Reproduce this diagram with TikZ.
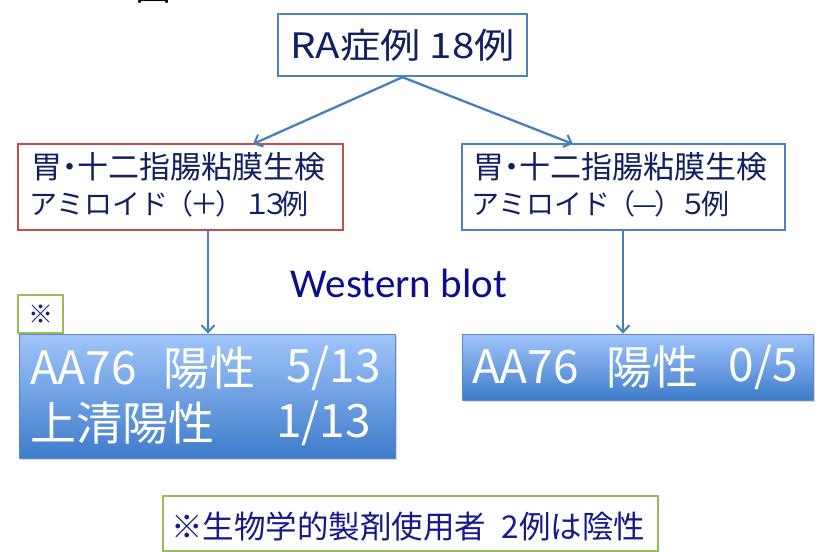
\documentclass[tikz,border=0pt]{standalone}
\usepackage{fontspec}
\setmainfont{Noto Sans CJK JP}
\newfontfamily\jpfont{Noto Sans CJK JP}
\newfontfamily\jpwidefont[FakeStretch=1.15]{Noto Sans CJK JP}
\newfontfamily\calfont{Carlito}
\usetikzlibrary{arrows.meta,shadows}
\definecolor{boxblue}{RGB}{79,129,189}
\definecolor{boxred}{RGB}{192,80,77}
\definecolor{boxgreen}{RGB}{155,187,89}
\definecolor{arrowc}{RGB}{74,126,187}
\definecolor{txtnavy}{RGB}{18,32,98}
\definecolor{txtblue}{RGB}{24,24,140}
\definecolor{westc}{RGB}{12,12,140}
\definecolor{gtop}{RGB}{160,197,250}
\definecolor{gbot}{RGB}{62,124,203}
\definecolor{gborder}{RGB}{90,136,200}
\newcommand{\nakaguro}{\kern-0.25em・\kern-0.25em}
\newcommand{\parenpart}[1]{\kern-0.1em（\kern-0.12em#1\kern-0.12em）}
\begin{document}
\begin{tikzpicture}[x=1pt,y=-1pt,
  frame/.style={draw=#1, line width=2.4pt, fill=white, inner sep=0pt},
  gbox/.style={draw=gborder, line width=0.8pt, top color=gtop, bottom color=gbot,
    drop shadow={opacity=0.3, shadow xshift=1.5pt, shadow yshift=-2pt}, inner sep=0pt},
  tx/.style={inner sep=0pt, anchor=west},
  arr/.style={draw=arrowc, line width=2.3pt, -{Straight Barb[length=7pt,width=13pt,line width=2pt]}}]
\useasboundingbox (0,0) rectangle (823,552);
\clip (0,0) rectangle (823,552);

% cut-off figure label
\node[inner sep=0pt, anchor=base west, font=\jpfont\fontsize{36}{40}\selectfont] (fig) at (135,0.5) {図2};

% top box
\node[frame=boxblue, minimum width=249pt, minimum height=62pt, text=txtnavy,
  font=\jpwidefont\fontsize{35}{40}\selectfont] (ra) at (402.5,45) {RA症例 18例};

% left / right biopsy boxes
\node[frame=boxred, minimum width=325pt, minimum height=86pt] (lb) at (180.5,187) {};
\node[tx, text=txtnavy, font=\jpfont\fontsize{31}{34}\selectfont] (lb1) at (31,167) {胃\nakaguro 十二指腸粘膜生検};
\node[tx, text=txtnavy, font=\jpfont\fontsize{28}{32}\selectfont] (lb2) at (29,204) {アミロイド\parenpart{＋}１\kern-0.35em３\kern-0.3em例};

\node[frame=boxblue, minimum width=323pt, minimum height=86pt] (rb) at (623.5,187) {};
\node[tx, text=txtnavy, font=\jpfont\fontsize{31}{34}\selectfont] (rb1) at (473,167) {胃\nakaguro 十二指腸粘膜生検};
\node[tx, text=txtnavy, font=\jpfont\fontsize{28}{32}\selectfont] (rb2) at (471,204) {アミロイド\parenpart{—}\kern-0.1em５\kern-0.2em例};

% arrows from top box
\coordinate (lt) at (253,144);
\coordinate (rt) at (573,144);
\draw[arr] (ra.south) -- (lt);
\draw[arr] (ra.south) -- (rt);

% Western blot label
\node[inner sep=0pt, text=westc, font=\calfont\fontsize{41}{45}\selectfont] (wb) at (399,283) {Western blot};

% result boxes
\node[gbox, minimum width=376pt, minimum height=124pt] (lg) at (207,396) {};
\node[tx, text=white, font=\jpfont\fontsize{46}{50}\selectfont] (lg1a) at (30,368) {AA76};
\node[tx, text=white, font=\jpfont\fontsize{46}{50}\selectfont] (lg1b) at (163,368) {陽性};
\node[tx, anchor=east, text=white, font=\jpfont\fontsize{46}{50}\selectfont] (lg1c) at (381,368) {5/13};
\node[tx, text=white, font=\jpfont\fontsize{46}{50}\selectfont] (lg2a) at (30,423) {上清陽性};
\node[tx, anchor=east, text=white, font=\jpfont\fontsize{46}{50}\selectfont] (lg2b) at (371,423) {1/13};

\node[gbox, minimum width=351pt, minimum height=66pt] (rg) at (637.5,367) {};
\node[tx, text=white, font=\jpfont\fontsize{46}{50}\selectfont] (rg1a) at (472,367) {AA76};
\node[tx, text=white, font=\jpfont\fontsize{46}{50}\selectfont] (rg1b) at (606,367) {陽性};
\node[tx, anchor=east, text=white, font=\jpfont\fontsize{46}{50}\selectfont] (rg1c) at (798,367) {0/5};

% vertical arrows
\coordinate (lx) at (208,0);
\coordinate (rx) at (623,0);
\draw[arr] (lb.south -| lx) -- (lg.north -| lx);
\draw[arr] (rb.south -| rx) -- (rg.north -| rx);

% note mark box
\node[frame=boxgreen, minimum width=45pt, minimum height=38pt, text=txtblue,
  font=\jpfont\fontsize{25}{28}\selectfont] (mk) at (40.5,314) {※};

% bottom note
\node[frame=boxgreen, minimum width=495pt, minimum height=55pt] (nt) at (410.5,523.5) {};
\node[tx, text=txtblue, font=\jpfont\fontsize{31.5}{34}\selectfont] (ntx) at (171,527) {※生物学的製剤使用者\hspace{0.5em}2例は陰性};
\end{tikzpicture}
\end{document}
